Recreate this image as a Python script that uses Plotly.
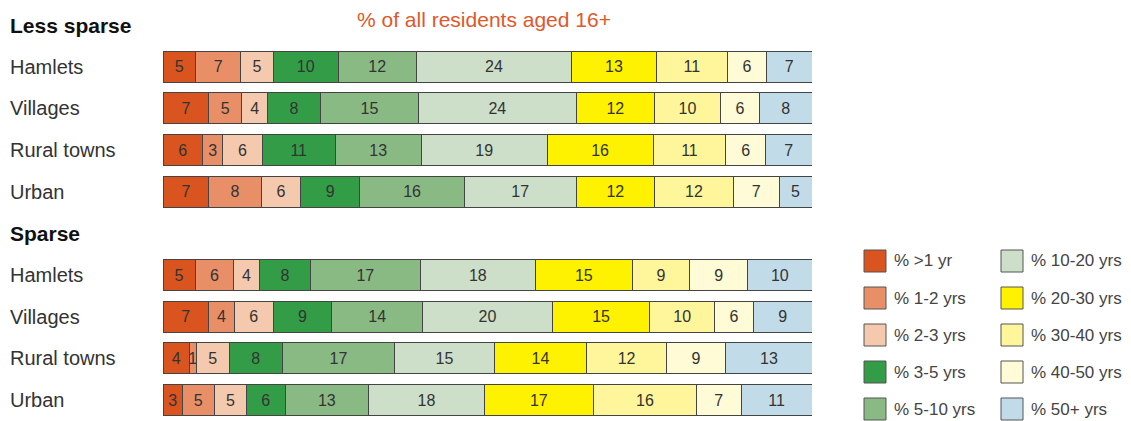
import plotly.graph_objects as go

# residency length bands
bands = ["% >1 yr", "% 1-2 yrs", "% 2-3 yrs", "% 3-5 yrs", "% 5-10 yrs",
         "% 10-20 yrs", "% 20-30 yrs", "% 30-40 yrs", "% 40-50 yrs", "% 50+ yrs"]
colors = ["#d9541f", "#e88f68", "#f5c9ae", "#339c47", "#8aba84",
          "#cddfc8", "#fff200", "#fff69b", "#fffbd6", "#c1dce8"]

# rows, top to bottom (header rows carry no bars)
row_keys = ["hdr_less", "ls_hamlets", "ls_villages", "ls_rural", "ls_urban",
            "hdr_sparse", "sp_hamlets", "sp_villages", "sp_rural", "sp_urban"]
row_labels = ["Less sparse", "Hamlets", "Villages", "Rural towns", "Urban",
              "Sparse", "Hamlets", "Villages", "Rural towns", "Urban"]
header_keys = ["hdr_less", "hdr_sparse"]
data_keys = ["ls_hamlets", "ls_villages", "ls_rural", "ls_urban",
             "sp_hamlets", "sp_villages", "sp_rural", "sp_urban"]

# values per row, one per band
values = {
    "ls_hamlets":  [5, 7, 5, 10, 12, 24, 13, 11, 6, 7],
    "ls_villages": [7, 5, 4, 8, 15, 24, 12, 10, 6, 8],
    "ls_rural":    [6, 3, 6, 11, 13, 19, 16, 11, 6, 7],
    "ls_urban":    [7, 8, 6, 9, 16, 17, 12, 12, 7, 5],
    "sp_hamlets":  [5, 6, 4, 8, 17, 18, 15, 9, 9, 10],
    "sp_villages": [7, 4, 6, 9, 14, 20, 15, 10, 6, 9],
    "sp_rural":    [4, 1, 5, 8, 17, 15, 14, 12, 9, 13],
    "sp_urban":    [3, 5, 5, 6, 13, 18, 17, 16, 7, 11],
}

title_text = "% of all residents aged 16+"

# the page body adds an 8px margin, so the figure is shrunk by that much
OFF = 8
W, H = 1131 - OFF, 421 - OFF
ml, mr, mt, mb = 163 - OFF, 1131 - 812, 0, 0
pw, ph = W - ml - mr, H - mt - mb
ROW = 41.67
FONT = "Arial, Liberation Sans, sans-serif"


def px_x(x):
    # page pixel -> paper
    return (x - OFF - ml) / pw


def px_y(y):
    return 1 - (y - OFF - mt) / ph


# first category centre sits at page y=25
top_cat = -(25 - OFF) / ROW
bot_cat = top_cat + ph / ROW

fig = go.Figure()
for i, band in enumerate(bands):
    vals = [values[k][i] for k in data_keys]
    fig.add_trace(go.Bar(
        y=data_keys, x=vals, orientation="h", name=band,
        marker=dict(color=colors[i], line=dict(color="#444444", width=1)),
        text=vals, textposition="inside", insidetextanchor="middle",
        textangle=0, constraintext="none",
        textfont=dict(size=16, color="#333333", family=FONT),
        hoverinfo="skip", showlegend=False,
    ))

annotations = []
for key, lab in zip(row_keys, row_labels):
    bold = key in header_keys
    annotations.append(dict(
        xref="paper", yref="y", x=px_x(8), y=key, xanchor="left", yanchor="middle",
        text="<b>%s</b>" % lab if bold else lab, showarrow=False,
        font=dict(size=21 if bold else 20, color="#111111" if bold else "#333333", family=FONT),
    ))

annotations.append(dict(
    xref="paper", yref="paper", x=px_x(484), y=px_y(20), xanchor="center", yanchor="middle",
    text=title_text, showarrow=False, font=dict(size=21, color="#e0582a", family=FONT),
))

# hand-drawn two-column legend
shapes = []
for i, band in enumerate(bands):
    col, row = divmod(i, 5)
    sx = 864 + col * 137
    cy = 261 + row * 37
    shapes.append(dict(
        type="rect", xref="paper", yref="paper",
        x0=px_x(sx), x1=px_x(sx + 22), y0=px_y(cy + 11), y1=px_y(cy - 11),
        fillcolor=colors[i], line=dict(color="#555555", width=1),
    ))
    annotations.append(dict(
        xref="paper", yref="paper", x=px_x(sx + 28), y=px_y(cy), xanchor="left", yanchor="middle",
        text=band, showarrow=False, font=dict(size=17, color="#444444", family=FONT),
    ))

fig.update_layout(
    width=W, height=H,
    margin=dict(l=ml, r=mr, t=mt, b=mb),
    barmode="stack", barnorm="percent", bargap=0.25,
    plot_bgcolor="white", paper_bgcolor="white",
    xaxis=dict(visible=False, range=[0, 100], fixedrange=True),
    yaxis=dict(visible=False, categoryorder="array", categoryarray=row_keys,
               range=[bot_cat, top_cat], fixedrange=True),
    annotations=annotations, shapes=shapes,
    font=dict(family=FONT),
)

fig.write_html("out.html")
